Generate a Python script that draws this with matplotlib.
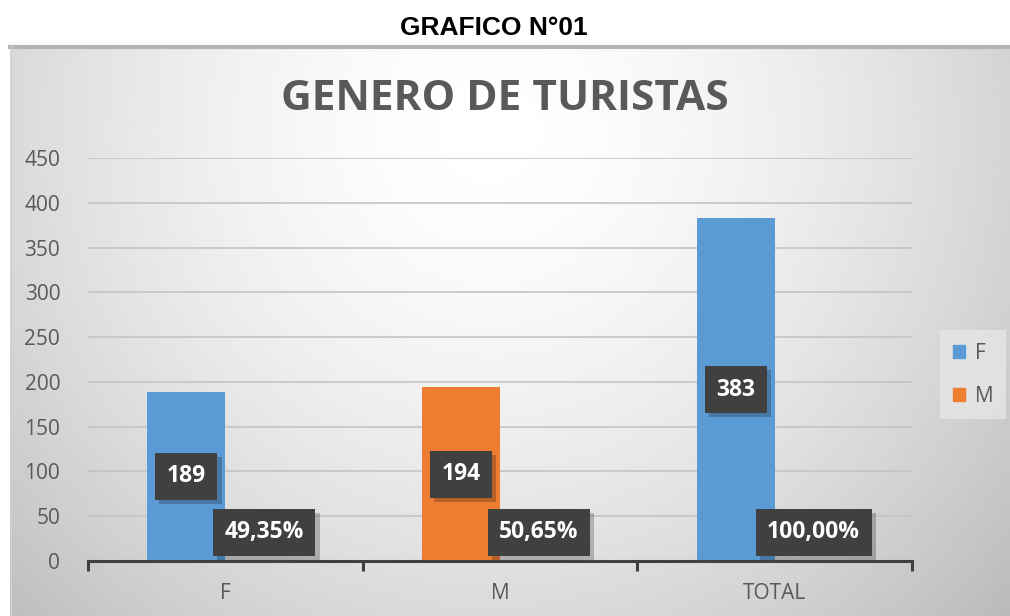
import numpy as np
import matplotlib.pyplot as plt
from matplotlib.patches import Patch
import matplotlib.patheffects as pe

categories = ['F', 'M', 'TOTAL']
counts = [189, 194, 383]
percents = [49.35, 50.65, 100.00]
bar_colors = ['#5B9BD5', '#ED7D31', '#5B9BD5']
yticks = [0, 50, 100, 150, 200, 250, 300, 350, 400, 450]

fig = plt.figure(figsize=(10.10, 6.16), dpi=100)
fig.patch.set_facecolor('white')

# gradient background of the chart area
bg = fig.add_axes([10 / 1010, 0, 1 - 10 / 1010, 571 / 616])
gx, gy = np.meshgrid(np.linspace(0, 1, 400), np.linspace(0, 1, 300))
r = np.sqrt(((gx - 0.48) / 0.62) ** 2 + ((gy - 0.15) / 1.1) ** 2)
shade = 1.0 - 0.22 * np.clip(r, 0, 1.2) ** 1.6
bg.imshow(shade, cmap='gray', vmin=0, vmax=1, aspect='auto', extent=[0, 1, 1, 0])
bg.set_xlim(0, 1)
bg.set_ylim(1, 0)
bg.axis('off')
bg.plot([0, 1], [0.003, 0.003], color='#b4b4b4', lw=3, clip_on=False)
bg.plot([0.001, 0.001], [0, 1], color='#d0d0d0', lw=1, clip_on=False)

fig.text(0.489, 0.955, 'GRAFICO N°01', ha='center', va='center',
         fontsize=19, fontweight='bold', family='Liberation Sans',
         color='black')

ax = fig.add_axes([88 / 1010, 55 / 616, 824 / 1010, 403 / 616])
ax.set_facecolor('none')

x = np.arange(len(categories))
w = 0.284
ax.bar(x - w / 2, counts, width=w, color=bar_colors, zorder=2)
ax.bar(x + w / 2, [p / 100 for p in percents], width=w, color=bar_colors, zorder=2)

ax.set_xlim(-0.5, 2.5)
ax.set_ylim(0, 450)
ax.set_yticks(yticks)
ax.yaxis.grid(True, color='#c4c4c4', lw=1.2, zorder=0)
ax.set_axisbelow(True)
for s in ['top', 'right', 'left']:
    ax.spines[s].set_visible(False)
ax.spines['bottom'].set_color('#404040')
ax.spines['bottom'].set_linewidth(2.2)
ax.tick_params(axis='y', length=0, pad=20, labelsize=15, labelcolor='#595959')
for lab in ax.get_yticklabels():
    lab.set_family('Open Sans')

ax.set_xticks(x)
ax.set_xticklabels(categories, family='Open Sans', fontsize=15, color='#595959')
ax.tick_params(axis='x', which='major', length=0, pad=16)
ax.set_xticks([-0.5, 0.5, 1.5, 2.5], minor=True)
ax.tick_params(axis='x', which='minor', length=7, width=2.2, color='#404040')

shadow = [pe.withSimplePatchShadow(offset=(3, -3), shadow_rgbFace='black', alpha=0.22)]

def label(xp, yp, txt):
    t = ax.text(xp, yp, txt, ha='center', va='center', fontsize=16.5, fontweight='bold',
                family='Open Sans', color='white', zorder=5,
                bbox=dict(boxstyle='square,pad=0.5', fc='#404040', ec='none'))
    t.get_bbox_patch().set_path_effects(shadow)
    return t

for i in range(len(categories)):
    label(x[i] - w / 2, counts[i] / 2, str(counts[i]))
    label(x[i] + w / 2, 32, f'{percents[i]:.2f}'.replace('.', ',') + '%')

fig.text(0.5, 0.838, 'GENERO DE TURISTAS', ha='center', va='center',
         fontsize=30.5, fontweight='bold', family='Open Sans', color='#595959')

handles = [Patch(color='#5B9BD5', label='F'), Patch(color='#ED7D31', label='M')]
leg = ax.legend(handles=handles, loc='center', bbox_to_anchor=(1.074, 0.462),
                frameon=True, fontsize=15, handlelength=0.6, handleheight=0.6,
                handletextpad=0.45, labelspacing=1.05, borderpad=0.6, fancybox=False)
leg.get_frame().set_facecolor('#e6e6e6')
leg.get_frame().set_edgecolor('none')
leg.get_frame().set_alpha(0.8)
for t in leg.get_texts():
    t.set_color('#595959')
    t.set_family('Open Sans')

fig.savefig('out.png', dpi=100)
